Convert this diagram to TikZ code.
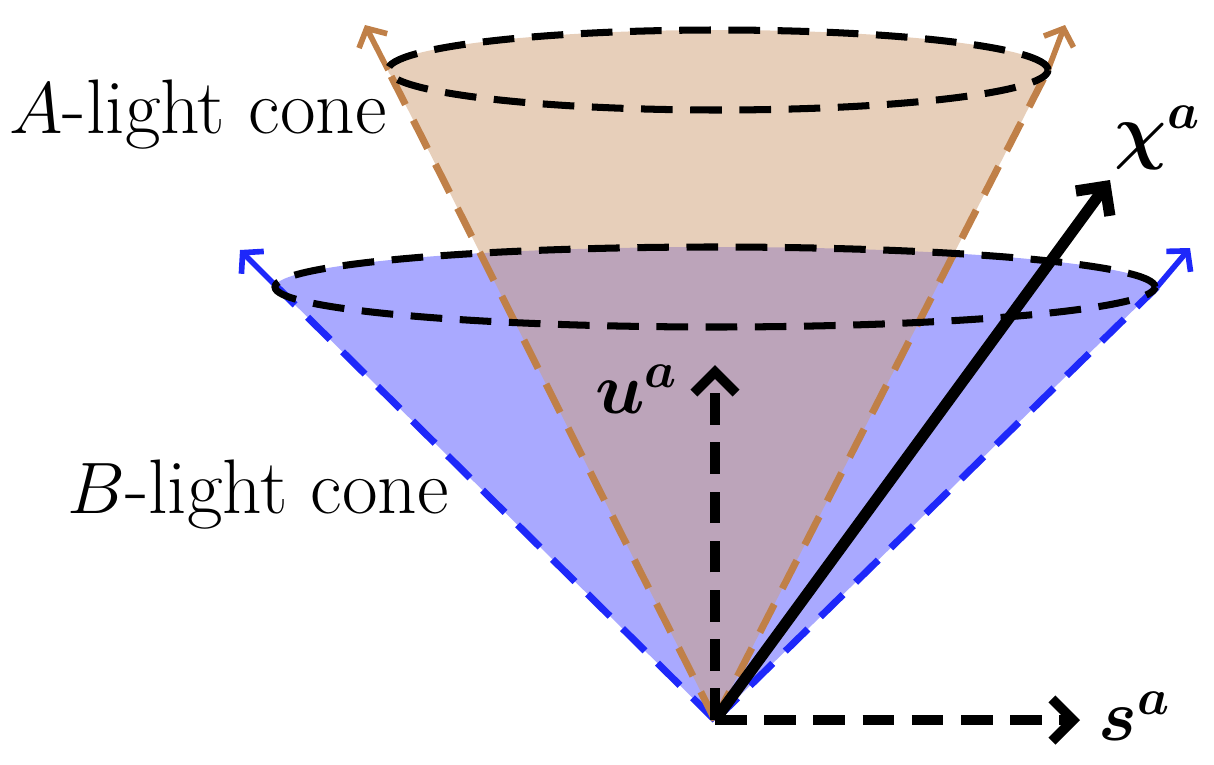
\documentclass[tikz,border=0pt]{standalone}
\usepackage{bm}
\usetikzlibrary{arrows.meta}
\definecolor{coneorange}{RGB}{192,128,72}
\definecolor{coneblue}{RGB}{30,40,250}
\tikzset{
  rim/.style={black, dashed, line width=2pt, dash pattern=on 9pt off 5pt},
  vec/.style={line width=2.8pt, -{Straight Barb[length=6pt,width=12pt]}},
  lbl/.style={font=\fontsize{22}{26}\selectfont}
}
\begin{document}
\begin{tikzpicture}
  \useasboundingbox (0,0) rectangle (12.14,7.64);
  \coordinate (O) at (7.15,0.44);
  \coordinate (BL) at (2.77,4.77);
  \coordinate (BR) at (11.57,4.77);
  \coordinate (AL) at (3.88,6.94);
  \coordinate (AR) at (10.48,6.94);
  % B cone
  \fill[blue!75, fill opacity=0.45] (O) -- (BR) -- (BL) -- cycle (7.15,4.77) ellipse (4.4 and 0.4);
  \draw[coneblue, line width=2pt, dash pattern=on 9pt off 5pt] (O) -- (BL) (O) -- (BR);
  \draw[coneblue, line width=1.6pt, -{Straight Barb[length=4pt,width=9pt]}] (BL) -- (2.40,5.14);
  \draw[coneblue, line width=1.6pt, -{Straight Barb[length=4pt,width=9pt]}] (BR) -- (11.90,5.16);
  % A cone
  \fill[coneorange!75, fill opacity=0.5] (O) -- (AR) -- (AL) -- cycle (7.18,6.94) ellipse (3.3 and 0.4);
  \draw[coneorange, line width=2pt, dash pattern=on 9pt off 5pt] (O) -- (AL) (O) -- (AR);
  \draw[coneorange, line width=1.6pt, -{Straight Barb[length=4pt,width=9pt]}] (AL) -- (3.65,7.39);
  \draw[coneorange, line width=1.6pt, -{Straight Barb[length=4pt,width=9pt]}] (AR) -- (10.65,7.39);
  % rims
  \draw[rim] (7.15,4.77) ellipse (4.4 and 0.4);
  \draw[rim] (7.18,6.94) ellipse (3.3 and 0.4);
  % vectors
  \coordinate (U) at (7.15,3.99);
  \coordinate (S) at (10.80,0.44);
  \coordinate (X) at (11.10,5.84);
  \draw[vec, dash pattern=on 9pt off 5pt] (O) -- (U);
  \draw[vec, dash pattern=on 9pt off 5pt] (O) -- (S);
  \draw[vec, line width=3.2pt] (O) -- (X);
  \node[lbl] (ul) at (6.37,3.75) {$\bm{u^a}$};
  \node[lbl] (sl) at (11.35,0.48) {$\bm{s^a}$};
  \node[lbl] (xl) at (11.58,6.26) {$\bm{\chi^a}$};
  \node[lbl] (al) at (1.98,6.49) {$A$-light cone};
  \node[lbl] (bl) at (2.58,2.69) {$B$-light cone};
\end{tikzpicture}
\end{document}
